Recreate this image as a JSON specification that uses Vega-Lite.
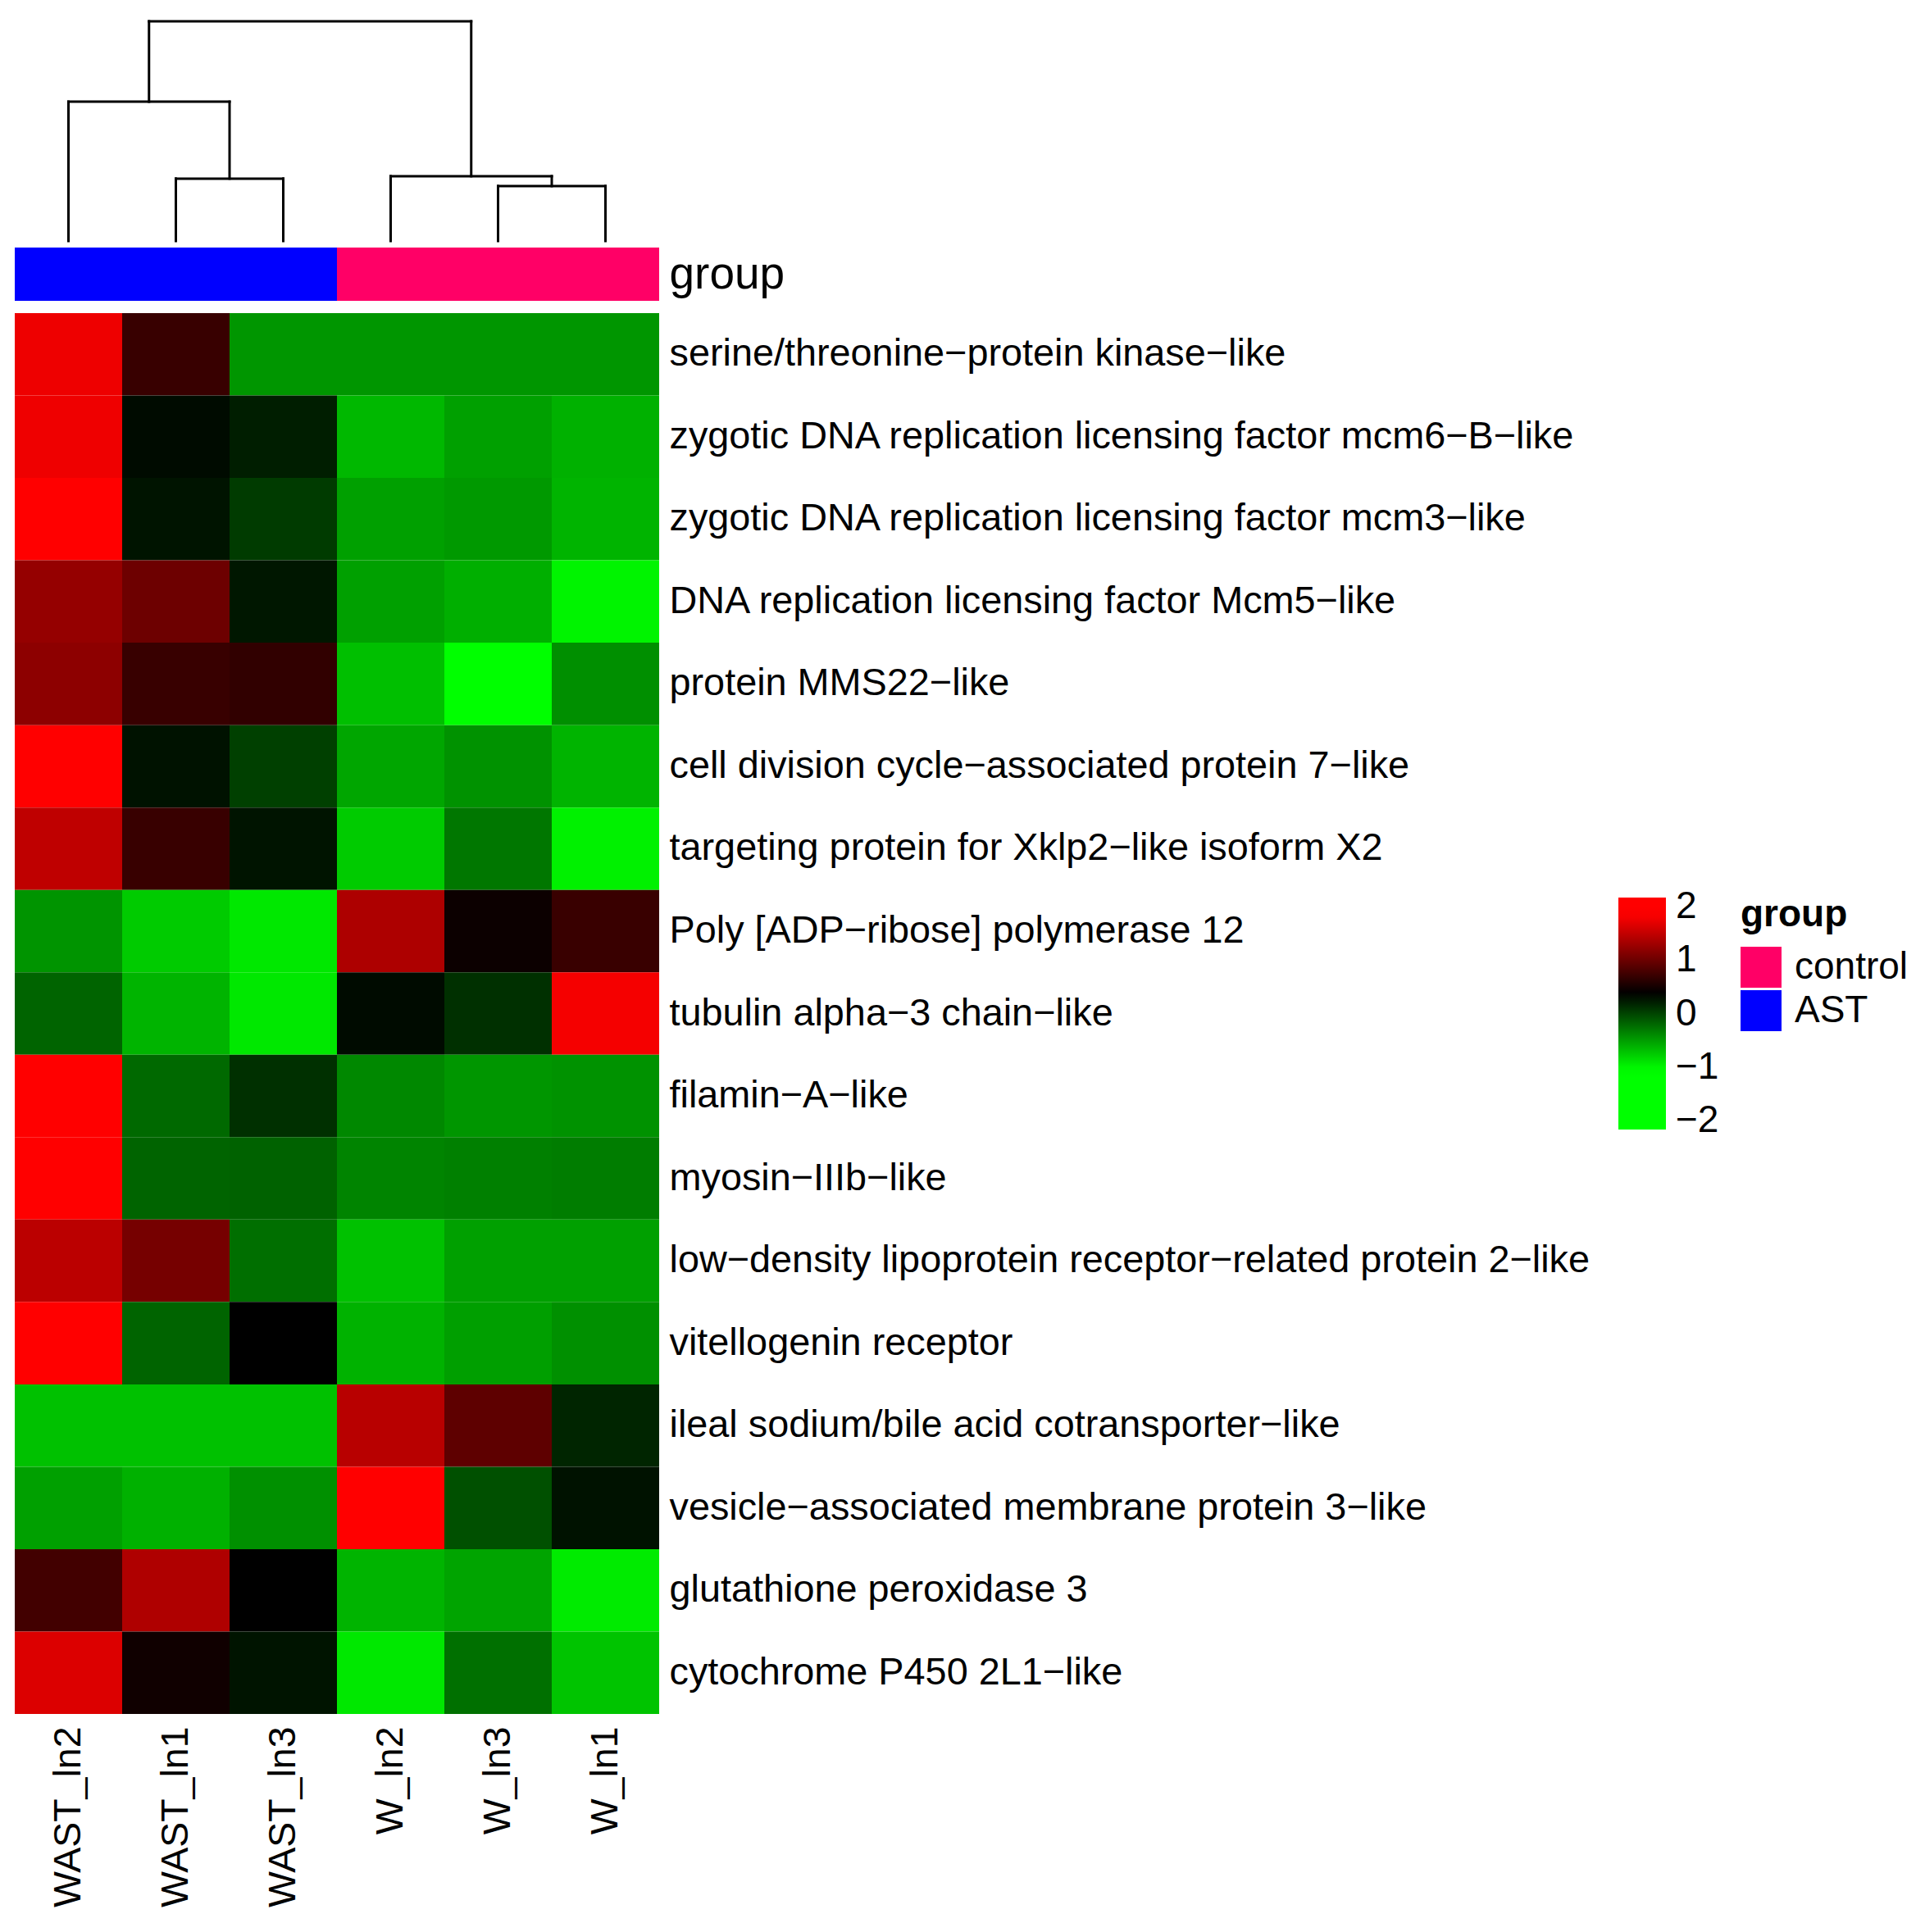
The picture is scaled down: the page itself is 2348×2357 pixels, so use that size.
{
  "$schema": "https://vega.github.io/schema/vega-lite/v6.json",
  "padding": {"left": 18, "top": 23, "right": 0, "bottom": 0},
  "spacing": 5,
  "config": {
    "font": "Liberation Sans",
    "view": {"stroke": null},
    "axis": {"labelFont": "Liberation Sans", "labelColor": "#000000", "ticks": false, "domain": false, "grid": false, "title": null, "labelLimit": 3000},
    "legend": {"labelFont": "Liberation Sans", "titleFont": "Liberation Sans", "labelColor": "#000000", "titleColor": "#000000", "padding": 0}
  },
  "resolve": {"scale": {"x": "independent", "y": "independent", "color": "independent"}},
  "datasets": {
    "dendro": [
      {"x": 1.25, "x2": 4.25, "h": 10, "h2": 10},
      {"x": 1.25, "x2": 1.25, "h": 10, "h2": 6.34},
      {"x": 4.25, "x2": 4.25, "h": 10, "h2": 2.95},
      {"x": 0.5, "x2": 2.0, "h": 6.34, "h2": 6.34},
      {"x": 0.5, "x2": 0.5, "h": 6.34, "h2": 0},
      {"x": 2.0, "x2": 2.0, "h": 6.34, "h2": 2.84},
      {"x": 1.5, "x2": 2.5, "h": 2.84, "h2": 2.84},
      {"x": 1.5, "x2": 1.5, "h": 2.84, "h2": 0},
      {"x": 2.5, "x2": 2.5, "h": 2.84, "h2": 0},
      {"x": 3.5, "x2": 5.0, "h": 2.95, "h2": 2.95},
      {"x": 3.5, "x2": 3.5, "h": 2.95, "h2": 0},
      {"x": 5.0, "x2": 5.0, "h": 2.95, "h2": 2.5},
      {"x": 4.5, "x2": 5.5, "h": 2.5, "h2": 2.5},
      {"x": 4.5, "x2": 4.5, "h": 2.5, "h2": 0},
      {"x": 5.5, "x2": 5.5, "h": 2.5, "h2": 0}
    ],
    "groups": [
      {"s": "WAST_ln2", "group": "AST", "track": "group"},
      {"s": "WAST_ln1", "group": "AST", "track": "group"},
      {"s": "WAST_ln3", "group": "AST", "track": "group"},
      {"s": "W_ln2", "group": "control", "track": "group"},
      {"s": "W_ln3", "group": "control", "track": "group"},
      {"s": "W_ln1", "group": "control", "track": "group"}
    ],
    "heat": [
      {"g": "serine/threonine−protein kinase−like", "s": "WAST_ln2", "v": 1.75},
      {"g": "serine/threonine−protein kinase−like", "s": "WAST_ln1", "v": 0.70},
      {"g": "serine/threonine−protein kinase−like", "s": "WAST_ln3", "v": -0.46},
      {"g": "serine/threonine−protein kinase−like", "s": "W_ln2", "v": -0.46},
      {"g": "serine/threonine−protein kinase−like", "s": "W_ln3", "v": -0.46},
      {"g": "serine/threonine−protein kinase−like", "s": "W_ln1", "v": -0.46},
      {"g": "zygotic DNA replication licensing factor mcm6−B−like", "s": "WAST_ln2", "v": 1.76},
      {"g": "zygotic DNA replication licensing factor mcm6−B−like", "s": "WAST_ln1", "v": 0.32},
      {"g": "zygotic DNA replication licensing factor mcm6−B−like", "s": "WAST_ln3", "v": 0.21},
      {"g": "zygotic DNA replication licensing factor mcm6−B−like", "s": "W_ln2", "v": -0.65},
      {"g": "zygotic DNA replication licensing factor mcm6−B−like", "s": "W_ln3", "v": -0.52},
      {"g": "zygotic DNA replication licensing factor mcm6−B−like", "s": "W_ln1", "v": -0.61},
      {"g": "zygotic DNA replication licensing factor mcm3−like", "s": "WAST_ln2", "v": 1.92},
      {"g": "zygotic DNA replication licensing factor mcm3−like", "s": "WAST_ln1", "v": 0.27},
      {"g": "zygotic DNA replication licensing factor mcm3−like", "s": "WAST_ln3", "v": 0.05},
      {"g": "zygotic DNA replication licensing factor mcm3−like", "s": "W_ln2", "v": -0.52},
      {"g": "zygotic DNA replication licensing factor mcm3−like", "s": "W_ln3", "v": -0.48},
      {"g": "zygotic DNA replication licensing factor mcm3−like", "s": "W_ln1", "v": -0.63},
      {"g": "DNA replication licensing factor Mcm5−like", "s": "WAST_ln2", "v": 1.24},
      {"g": "DNA replication licensing factor Mcm5−like", "s": "WAST_ln1", "v": 1.01},
      {"g": "DNA replication licensing factor Mcm5−like", "s": "WAST_ln3", "v": 0.25},
      {"g": "DNA replication licensing factor Mcm5−like", "s": "W_ln2", "v": -0.52},
      {"g": "DNA replication licensing factor Mcm5−like", "s": "W_ln3", "v": -0.60},
      {"g": "DNA replication licensing factor Mcm5−like", "s": "W_ln1", "v": -0.99},
      {"g": "protein MMS22−like", "s": "WAST_ln2", "v": 1.19},
      {"g": "protein MMS22−like", "s": "WAST_ln1", "v": 0.70},
      {"g": "protein MMS22−like", "s": "WAST_ln3", "v": 0.66},
      {"g": "protein MMS22−like", "s": "W_ln2", "v": -0.69},
      {"g": "protein MMS22−like", "s": "W_ln3", "v": -1.10},
      {"g": "protein MMS22−like", "s": "W_ln1", "v": -0.42},
      {"g": "cell division cycle−associated protein 7−like", "s": "WAST_ln2", "v": 1.90},
      {"g": "cell division cycle−associated protein 7−like", "s": "WAST_ln1", "v": 0.28},
      {"g": "cell division cycle−associated protein 7−like", "s": "WAST_ln3", "v": 0.02},
      {"g": "cell division cycle−associated protein 7−like", "s": "W_ln2", "v": -0.55},
      {"g": "cell division cycle−associated protein 7−like", "s": "W_ln3", "v": -0.44},
      {"g": "cell division cycle−associated protein 7−like", "s": "W_ln1", "v": -0.63},
      {"g": "targeting protein for Xklp2−like isoform X2", "s": "WAST_ln2", "v": 1.48},
      {"g": "targeting protein for Xklp2−like isoform X2", "s": "WAST_ln1", "v": 0.70},
      {"g": "targeting protein for Xklp2−like isoform X2", "s": "WAST_ln3", "v": 0.27},
      {"g": "targeting protein for Xklp2−like isoform X2", "s": "W_ln2", "v": -0.76},
      {"g": "targeting protein for Xklp2−like isoform X2", "s": "W_ln3", "v": -0.29},
      {"g": "targeting protein for Xklp2−like isoform X2", "s": "W_ln1", "v": -0.97},
      {"g": "Poly [ADP−ribose] polymerase 12", "s": "WAST_ln2", "v": -0.45},
      {"g": "Poly [ADP−ribose] polymerase 12", "s": "WAST_ln1", "v": -0.76},
      {"g": "Poly [ADP−ribose] polymerase 12", "s": "WAST_ln3", "v": -0.92},
      {"g": "Poly [ADP−ribose] polymerase 12", "s": "W_ln2", "v": 1.38},
      {"g": "Poly [ADP−ribose] polymerase 12", "s": "W_ln3", "v": 0.45},
      {"g": "Poly [ADP−ribose] polymerase 12", "s": "W_ln1", "v": 0.71},
      {"g": "tubulin alpha−3 chain−like", "s": "WAST_ln2", "v": -0.18},
      {"g": "tubulin alpha−3 chain−like", "s": "WAST_ln1", "v": -0.63},
      {"g": "tubulin alpha−3 chain−like", "s": "WAST_ln3", "v": -0.92},
      {"g": "tubulin alpha−3 chain−like", "s": "W_ln2", "v": 0.32},
      {"g": "tubulin alpha−3 chain−like", "s": "W_ln3", "v": 0.11},
      {"g": "tubulin alpha−3 chain−like", "s": "W_ln1", "v": 1.79},
      {"g": "filamin−A−like", "s": "WAST_ln2", "v": 1.95},
      {"g": "filamin−A−like", "s": "WAST_ln1", "v": -0.21},
      {"g": "filamin−A−like", "s": "WAST_ln3", "v": 0.11},
      {"g": "filamin−A−like", "s": "W_ln2", "v": -0.38},
      {"g": "filamin−A−like", "s": "W_ln3", "v": -0.46},
      {"g": "filamin−A−like", "s": "W_ln1", "v": -0.44},
      {"g": "myosin−IIIb−like", "s": "WAST_ln2", "v": 1.95},
      {"g": "myosin−IIIb−like", "s": "WAST_ln1", "v": -0.18},
      {"g": "myosin−IIIb−like", "s": "WAST_ln3", "v": -0.17},
      {"g": "myosin−IIIb−like", "s": "W_ln2", "v": -0.36},
      {"g": "myosin−IIIb−like", "s": "W_ln3", "v": -0.34},
      {"g": "myosin−IIIb−like", "s": "W_ln1", "v": -0.32},
      {"g": "low−density lipoprotein receptor−related protein 2−like", "s": "WAST_ln2", "v": 1.46},
      {"g": "low−density lipoprotein receptor−related protein 2−like", "s": "WAST_ln1", "v": 1.06},
      {"g": "low−density lipoprotein receptor−related protein 2−like", "s": "WAST_ln3", "v": -0.24},
      {"g": "low−density lipoprotein receptor−related protein 2−like", "s": "W_ln2", "v": -0.70},
      {"g": "low−density lipoprotein receptor−related protein 2−like", "s": "W_ln3", "v": -0.52},
      {"g": "low−density lipoprotein receptor−related protein 2−like", "s": "W_ln1", "v": -0.52},
      {"g": "vitellogenin receptor", "s": "WAST_ln2", "v": 1.90},
      {"g": "vitellogenin receptor", "s": "WAST_ln1", "v": -0.18},
      {"g": "vitellogenin receptor", "s": "WAST_ln3", "v": 0.38},
      {"g": "vitellogenin receptor", "s": "W_ln2", "v": -0.62},
      {"g": "vitellogenin receptor", "s": "W_ln3", "v": -0.51},
      {"g": "vitellogenin receptor", "s": "W_ln1", "v": -0.43},
      {"g": "ileal sodium/bile acid cotransporter−like", "s": "WAST_ln2", "v": -0.70},
      {"g": "ileal sodium/bile acid cotransporter−like", "s": "WAST_ln1", "v": -0.70},
      {"g": "ileal sodium/bile acid cotransporter−like", "s": "WAST_ln3", "v": -0.70},
      {"g": "ileal sodium/bile acid cotransporter−like", "s": "W_ln2", "v": 1.44},
      {"g": "ileal sodium/bile acid cotransporter−like", "s": "W_ln3", "v": 0.92},
      {"g": "ileal sodium/bile acid cotransporter−like", "s": "W_ln1", "v": 0.17},
      {"g": "vesicle−associated membrane protein 3−like", "s": "WAST_ln2", "v": -0.52},
      {"g": "vesicle−associated membrane protein 3−like", "s": "WAST_ln1", "v": -0.61},
      {"g": "vesicle−associated membrane protein 3−like", "s": "WAST_ln3", "v": -0.43},
      {"g": "vesicle−associated membrane protein 3−like", "s": "W_ln2", "v": 1.90},
      {"g": "vesicle−associated membrane protein 3−like", "s": "W_ln3", "v": -0.07},
      {"g": "vesicle−associated membrane protein 3−like", "s": "W_ln1", "v": 0.28},
      {"g": "glutathione peroxidase 3", "s": "WAST_ln2", "v": 0.76},
      {"g": "glutathione peroxidase 3", "s": "WAST_ln1", "v": 1.39},
      {"g": "glutathione peroxidase 3", "s": "WAST_ln3", "v": 0.38},
      {"g": "glutathione peroxidase 3", "s": "W_ln2", "v": -0.63},
      {"g": "glutathione peroxidase 3", "s": "W_ln3", "v": -0.54},
      {"g": "glutathione peroxidase 3", "s": "W_ln1", "v": -0.94},
      {"g": "cytochrome P450 2L1−like", "s": "WAST_ln2", "v": 1.65},
      {"g": "cytochrome P450 2L1−like", "s": "WAST_ln1", "v": 0.47},
      {"g": "cytochrome P450 2L1−like", "s": "WAST_ln3", "v": 0.27},
      {"g": "cytochrome P450 2L1−like", "s": "W_ln2", "v": -0.92},
      {"g": "cytochrome P450 2L1−like", "s": "W_ln3", "v": -0.25},
      {"g": "cytochrome P450 2L1−like", "s": "W_ln1", "v": -0.72}
    ]
  },
  "vconcat": [
    {
      "width": 786,
      "height": 268,
      "data": {"name": "dendro"},
      "mark": {"type": "rule", "color": "#000000", "strokeWidth": 3, "strokeCap": "square"},
      "encoding": {
        "x": {"field": "x", "type": "quantitative", "scale": {"domain": [0, 6], "nice": false, "zero": false}, "axis": null},
        "x2": {"field": "x2"},
        "y": {"field": "h", "type": "quantitative", "scale": {"domain": [0, 10], "nice": false, "zero": false}, "axis": null},
        "y2": {"field": "h2"}
      }
    },
    {
      "width": 786,
      "height": 75,
      "data": {"name": "groups"},
      "mark": {"type": "rect"},
      "encoding": {
        "x": {"field": "s", "type": "nominal", "sort": ["WAST_ln2", "WAST_ln1", "WAST_ln3", "W_ln2", "W_ln3", "W_ln1"], "scale": {"paddingInner": 0, "paddingOuter": 0}, "axis": null},
        "y": {"field": "track", "type": "nominal", "scale": {"paddingInner": 0, "paddingOuter": 0.0769, "align": 0}, "axis": {"orient": "right", "labelFontSize": 55, "labelPadding": 12}},
        "color": {
          "field": "group", "type": "nominal",
          "scale": {"domain": ["control", "AST"], "range": ["#FF0066", "#0000FF"]},
          "legend": null
        }
      }
    },
    {
      "width": 786,
      "height": 1709,
      "resolve": {"scale": {"color": "independent"}},
      "layer": [
        {
          "data": {"name": "heat"},
          "mark": {"type": "rect"},
          "encoding": {
            "x": {"field": "s", "type": "nominal", "sort": ["WAST_ln2", "WAST_ln1", "WAST_ln3", "W_ln2", "W_ln3", "W_ln1"], "scale": {"paddingInner": 0, "paddingOuter": 0}, "axis": {"orient": "bottom", "labelAngle": 270, "labelFontSize": 46.5, "labelPadding": 15}},
            "y": {"field": "g", "type": "nominal", "sort": null, "scale": {"paddingInner": 0, "paddingOuter": 0}, "axis": {"orient": "right", "labelFontSize": 46.8, "labelPadding": 12}},
            "color": {
              "field": "v", "type": "quantitative",
              "scale": {"domain": [-2.17, -1.05, 0.38, 1.85, 2.17], "range": ["#00FF00", "#00FF00", "#000000", "#FF0000", "#FF0000"], "interpolate": "rgb", "clamp": true},
              "legend": {"orient": "none", "legendX": 1956, "legendY": 713, "direction": "vertical", "title": null, "gradientLength": 283, "gradientThickness": 58, "gradientStrokeWidth": 0, "values": [-2, -1, 0, 1, 2], "labelFontSize": 46, "labelOffset": 12, "labelExpr": "replace(datum.label, '-', '−')"}
            }
          }
        },
        {
          "data": {"name": "groups"},
          "mark": {"type": "rect", "opacity": 0},
          "encoding": {
            "x": {"field": "s", "type": "nominal", "sort": ["WAST_ln2", "WAST_ln1", "WAST_ln3", "W_ln2", "W_ln3", "W_ln1"]},
            "color": {
              "field": "group", "type": "nominal",
              "scale": {"domain": ["control", "AST"], "range": ["#FF0066", "#0000FF"]},
              "legend": {"orient": "none", "legendX": 2105, "legendY": 712, "direction": "vertical", "title": "group", "titleFontSize": 46, "titleFontWeight": "bold", "titlePadding": 15, "symbolType": "square", "symbolSize": 2500, "symbolStrokeWidth": 0, "symbolOpacity": 1, "labelFontSize": 46, "labelOffset": 16, "rowPadding": 3}
            }
          }
        }
      ]
    }
  ]
}
